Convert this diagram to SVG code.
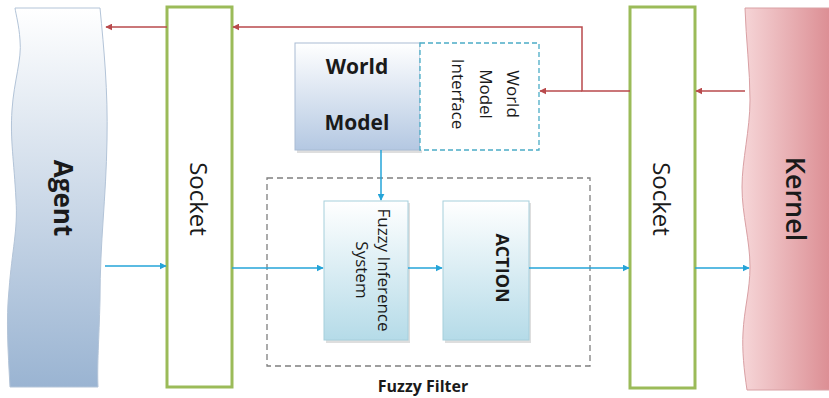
<svg xmlns="http://www.w3.org/2000/svg" width="829" height="398" viewBox="0 0 829 398">
<style>
.sock{fill:#ffffff;stroke:#9bbb59;stroke-width:3}
.red{fill:none;stroke:#b94a4c;stroke-width:1.5}
.blue{fill:none;stroke:#25a4d8;stroke-width:1.5}
.lbl{font-family:"Open Sans","Liberation Sans",sans-serif;fill:#1a1a1a}
.shadow{fill:#c8c8c8;opacity:0.6}
</style>
<defs>
<linearGradient id="gAgent" x1="0" y1="0" x2="0" y2="1">
<stop offset="0" stop-color="#ffffff"/>
<stop offset="1" stop-color="#9ab4d2"/>
</linearGradient>
<linearGradient id="gKernel" x1="0" y1="0" x2="1" y2="0">
<stop offset="0" stop-color="#f6d6d8"/>
<stop offset="1" stop-color="#d9868c"/>
</linearGradient>
<linearGradient id="gWM" x1="0" y1="0" x2="0" y2="1">
<stop offset="0" stop-color="#ffffff"/>
<stop offset="1" stop-color="#b4c8e2"/>
</linearGradient>
<linearGradient id="gBox" x1="0" y1="0" x2="0" y2="1">
<stop offset="0" stop-color="#ffffff"/>
<stop offset="1" stop-color="#b5dbe8"/>
</linearGradient>
<marker id="aRed" viewBox="0 0 10 10" refX="9" refY="5" markerWidth="7" markerHeight="7" orient="auto" markerUnits="userSpaceOnUse">
<path d="M0,0 L10,5 L0,10 z" fill="#b94a4c"/>
</marker>
<marker id="aBlue" viewBox="0 0 10 10" refX="9" refY="5" markerWidth="7" markerHeight="7" orient="auto" markerUnits="userSpaceOnUse">
<path d="M0,0 L10,5 L0,10 z" fill="#25a4d8"/>
</marker>
</defs>

<g id="agent">
<path d="M15,8 L100,8 C104,50 108,90 107,140 C106,200 100,240 100,300 C99,340 97,365 98,387 L10,387 C8,350 6,320 9,290 C12,250 18,230 16,200 C14,160 10,140 12,110 C14,80 22,60 20,40 C19,25 16,15 15,8 Z" fill="url(#gAgent)" stroke="#b3c4d8" stroke-width="1"/>
<text class="lbl" transform="translate(64,198) rotate(90)" text-anchor="middle" dominant-baseline="central" font-size="26" font-weight="bold">Agent</text>
</g>

<g id="socket-left">
<rect class="sock" x="167" y="7" width="65" height="380"/>
<text class="lbl" transform="translate(199,199) rotate(90)" text-anchor="middle" dominant-baseline="central" font-size="24">Socket</text>
</g>

<g id="socket-right">
<rect class="sock" x="630" y="7" width="65" height="381"/>
<text class="lbl" transform="translate(662,199) rotate(90)" text-anchor="middle" dominant-baseline="central" font-size="24">Socket</text>
</g>

<g id="kernel">
<path d="M745,8 L840,8 L840,390 L747,390 C744,370 742,350 743,333 C744,310 750,290 750,267 C750,240 742,215 742,187 C742,160 750,130 750,100 C750,70 746,40 745,8 Z" fill="url(#gKernel)" stroke="#d9a0a4" stroke-width="1"/>
<text class="lbl" transform="translate(796,199) rotate(90)" text-anchor="middle" dominant-baseline="central" font-size="27" font-weight="600">Kernel</text>
</g>

<g id="world-model">
<rect class="shadow" x="297" y="45" width="125" height="108"/>
<rect x="295" y="43" width="125" height="107" fill="url(#gWM)" stroke="#a9bcd4" stroke-width="1"/>
<text class="lbl" x="357" y="66" text-anchor="middle" dominant-baseline="central" font-size="21" font-weight="bold">World</text>
<text class="lbl" x="357" y="122" text-anchor="middle" dominant-baseline="central" font-size="21" font-weight="bold">Model</text>
</g>

<g id="world-model-interface">
<rect x="420" y="43" width="119" height="107" fill="#ffffff" stroke="#4bacc6" stroke-width="1.3" stroke-dasharray="5,3"/>
<text class="lbl" transform="translate(513,94) rotate(90)" text-anchor="middle" dominant-baseline="central" font-size="17">World</text>
<text class="lbl" transform="translate(486,94) rotate(90)" text-anchor="middle" dominant-baseline="central" font-size="17">Model</text>
<text class="lbl" transform="translate(458,94) rotate(90)" text-anchor="middle" dominant-baseline="central" font-size="17">Interface</text>
</g>

<g id="fuzzy-filter">
<rect x="267" y="178" width="323" height="188" fill="none" stroke="#7f7f7f" stroke-width="1.3" stroke-dasharray="6,4"/>
<text class="lbl" x="423" y="386" text-anchor="middle" dominant-baseline="central" font-size="16" font-weight="bold" fill="#333333">Fuzzy Filter</text>
</g>

<g id="fuzzy-inference-system">
<rect class="shadow" x="326" y="203" width="84" height="140"/>
<rect x="324" y="201" width="84" height="139" fill="url(#gBox)" stroke="#a6cfdc" stroke-width="1"/>
<text class="lbl" transform="translate(384,270) rotate(90)" text-anchor="middle" dominant-baseline="central" font-size="17">Fuzzy Inference</text>
<text class="lbl" transform="translate(362,270) rotate(90)" text-anchor="middle" dominant-baseline="central" font-size="17">System</text>
</g>

<g id="action">
<rect class="shadow" x="445" y="203" width="86" height="140"/>
<rect x="443" y="201" width="86" height="139" fill="url(#gBox)" stroke="#a6cfdc" stroke-width="1"/>
<text class="lbl" transform="translate(503,268) rotate(90)" text-anchor="middle" dominant-baseline="central" font-size="18" font-weight="bold">ACTION</text>
</g>

<g id="connectors">
<polyline class="red" points="630,91 582,91 582,27 233,27" marker-end="url(#aRed)"/>
<line class="red" x1="582" y1="91" x2="540" y2="91" marker-end="url(#aRed)"/>
<line class="red" x1="167" y1="27" x2="106" y2="27" marker-end="url(#aRed)"/>
<line class="red" x1="745" y1="91" x2="696" y2="91" marker-end="url(#aRed)"/>
<line class="blue" x1="381" y1="150" x2="381" y2="200" marker-end="url(#aBlue)"/>
<line class="blue" x1="105" y1="266" x2="166" y2="266" marker-end="url(#aBlue)"/>
<line class="blue" x1="232" y1="268" x2="323" y2="268" marker-end="url(#aBlue)"/>
<line class="blue" x1="408" y1="268" x2="442" y2="268" marker-end="url(#aBlue)"/>
<line class="blue" x1="529" y1="268" x2="629" y2="268" marker-end="url(#aBlue)"/>
<line class="blue" x1="695" y1="268" x2="749" y2="268" marker-end="url(#aBlue)"/>
</g>
</svg>
